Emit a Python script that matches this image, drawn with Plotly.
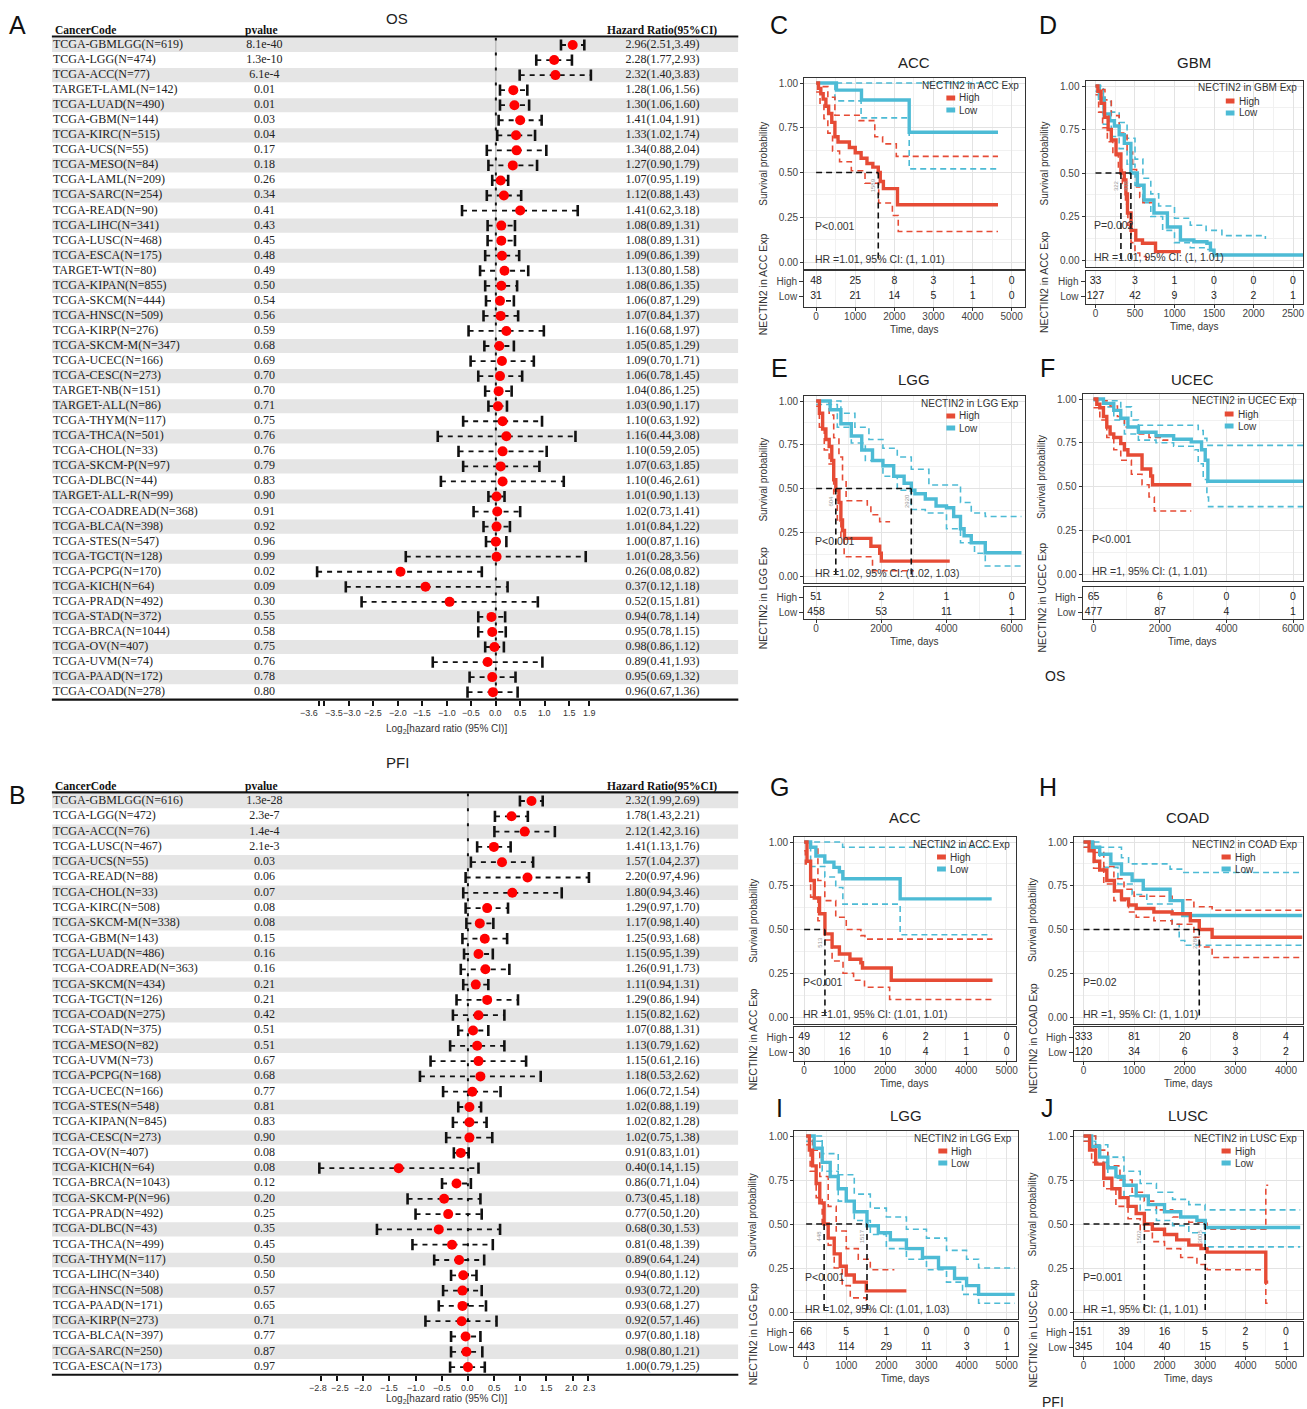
import math
import plotly.graph_objects as go

# ======================= DATA =======================
# ---- Forest plot A (OS) ----
os_codes = ["TCGA-GBMLGG(N=619)", "TCGA-LGG(N=474)", "TCGA-ACC(N=77)", "TARGET-LAML(N=142)",
            "TCGA-LUAD(N=490)", "TCGA-GBM(N=144)", "TCGA-KIRC(N=515)", "TCGA-UCS(N=55)",
            "TCGA-MESO(N=84)", "TCGA-LAML(N=209)", "TCGA-SARC(N=254)", "TCGA-READ(N=90)",
            "TCGA-LIHC(N=341)", "TCGA-LUSC(N=468)", "TCGA-ESCA(N=175)", "TARGET-WT(N=80)",
            "TCGA-KIPAN(N=855)", "TCGA-SKCM(N=444)", "TCGA-HNSC(N=509)", "TCGA-KIRP(N=276)",
            "TCGA-SKCM-M(N=347)", "TCGA-UCEC(N=166)", "TCGA-CESC(N=273)", "TARGET-NB(N=151)",
            "TARGET-ALL(N=86)", "TCGA-THYM(N=117)", "TCGA-THCA(N=501)", "TCGA-CHOL(N=33)",
            "TCGA-SKCM-P(N=97)", "TCGA-DLBC(N=44)", "TARGET-ALL-R(N=99)", "TCGA-COADREAD(N=368)",
            "TCGA-BLCA(N=398)", "TCGA-STES(N=547)", "TCGA-TGCT(N=128)", "TCGA-PCPG(N=170)",
            "TCGA-KICH(N=64)", "TCGA-PRAD(N=492)", "TCGA-STAD(N=372)", "TCGA-BRCA(N=1044)",
            "TCGA-OV(N=407)", "TCGA-UVM(N=74)", "TCGA-PAAD(N=172)", "TCGA-COAD(N=278)"]
os_pvalues = ["8.1e-40", "1.3e-10", "6.1e-4", "0.01", "0.01", "0.03", "0.04", "0.17", "0.18", "0.26",
              "0.34", "0.41", "0.43", "0.45", "0.48", "0.49", "0.50", "0.54", "0.56", "0.59",
              "0.68", "0.69", "0.70", "0.70", "0.71", "0.75", "0.76", "0.76", "0.79", "0.83",
              "0.90", "0.91", "0.92", "0.96", "0.99", "0.02", "0.09", "0.30", "0.55", "0.58",
              "0.75", "0.76", "0.78", "0.80"]
os_hr = [2.96, 2.28, 2.32, 1.28, 1.30, 1.41, 1.33, 1.34, 1.27, 1.07, 1.12, 1.41, 1.08, 1.08, 1.09,
         1.13, 1.08, 1.06, 1.07, 1.16, 1.05, 1.09, 1.06, 1.04, 1.03, 1.10, 1.16, 1.10, 1.07, 1.10,
         1.01, 1.02, 1.01, 1.00, 1.01, 0.26, 0.37, 0.52, 0.94, 0.95, 0.98, 0.89, 0.95, 0.96]
os_lo = [2.51, 1.77, 1.40, 1.06, 1.06, 1.04, 1.02, 0.88, 0.90, 0.95, 0.88, 0.62, 0.89, 0.89, 0.86,
         0.80, 0.86, 0.87, 0.84, 0.68, 0.85, 0.70, 0.78, 0.86, 0.90, 0.63, 0.44, 0.59, 0.63, 0.46,
         0.90, 0.73, 0.84, 0.87, 0.28, 0.08, 0.12, 0.15, 0.78, 0.78, 0.86, 0.41, 0.69, 0.67]
os_hi = [3.49, 2.93, 3.83, 1.56, 1.60, 1.91, 1.74, 2.04, 1.79, 1.19, 1.43, 3.18, 1.31, 1.31, 1.39,
         1.58, 1.35, 1.29, 1.37, 1.97, 1.29, 1.71, 1.45, 1.25, 1.17, 1.92, 3.08, 2.05, 1.85, 2.61,
         1.13, 1.41, 1.22, 1.16, 3.56, 0.82, 1.18, 1.81, 1.14, 1.15, 1.12, 1.93, 1.32, 1.36]
os_ticks = [-3.6, -3.5, -3.0, -2.5, -2.0, -1.5, -1.0, -0.5, 0.0, 0.5, 1.0, 1.5, 1.9]

# ---- Forest plot B (PFI) ----
pfi_codes = ["TCGA-GBMLGG(N=616)", "TCGA-LGG(N=472)", "TCGA-ACC(N=76)", "TCGA-LUSC(N=467)",
             "TCGA-UCS(N=55)", "TCGA-READ(N=88)", "TCGA-CHOL(N=33)", "TCGA-KIRC(N=508)",
             "TCGA-SKCM-M(N=338)", "TCGA-GBM(N=143)", "TCGA-LUAD(N=486)", "TCGA-COADREAD(N=363)",
             "TCGA-SKCM(N=434)", "TCGA-TGCT(N=126)", "TCGA-COAD(N=275)", "TCGA-STAD(N=375)",
             "TCGA-MESO(N=82)", "TCGA-UVM(N=73)", "TCGA-PCPG(N=168)", "TCGA-UCEC(N=166)",
             "TCGA-STES(N=548)", "TCGA-KIPAN(N=845)", "TCGA-CESC(N=273)", "TCGA-OV(N=407)",
             "TCGA-KICH(N=64)", "TCGA-BRCA(N=1043)", "TCGA-SKCM-P(N=96)", "TCGA-PRAD(N=492)",
             "TCGA-DLBC(N=43)", "TCGA-THCA(N=499)", "TCGA-THYM(N=117)", "TCGA-LIHC(N=340)",
             "TCGA-HNSC(N=508)", "TCGA-PAAD(N=171)", "TCGA-KIRP(N=273)", "TCGA-BLCA(N=397)",
             "TCGA-SARC(N=250)", "TCGA-ESCA(N=173)"]
pfi_pvalues = ["1.3e-28", "2.3e-7", "1.4e-4", "2.1e-3", "0.03", "0.06", "0.07", "0.08", "0.08", "0.15",
               "0.16", "0.16", "0.21", "0.21", "0.42", "0.51", "0.51", "0.67", "0.68", "0.77",
               "0.81", "0.83", "0.90", "0.08", "0.08", "0.12", "0.20", "0.25", "0.35", "0.45",
               "0.50", "0.50", "0.57", "0.65", "0.71", "0.77", "0.87", "0.97"]
pfi_hr = [2.32, 1.78, 2.12, 1.41, 1.57, 2.20, 1.80, 1.29, 1.17, 1.25, 1.15, 1.26, 1.11, 1.29, 1.15,
          1.07, 1.13, 1.15, 1.18, 1.06, 1.02, 1.02, 1.02, 0.91, 0.40, 0.86, 0.73, 0.77, 0.68, 0.81,
          0.89, 0.94, 0.93, 0.93, 0.92, 0.97, 0.98, 1.00]
pfi_lo = [1.99, 1.43, 1.42, 1.13, 1.04, 0.97, 0.94, 0.97, 0.98, 0.93, 0.95, 0.91, 0.94, 0.86, 0.82,
          0.88, 0.79, 0.61, 0.53, 0.72, 0.88, 0.82, 0.75, 0.83, 0.14, 0.71, 0.45, 0.50, 0.30, 0.48,
          0.64, 0.80, 0.72, 0.68, 0.57, 0.80, 0.80, 0.79]
pfi_hi = [2.69, 2.21, 3.16, 1.76, 2.37, 4.96, 3.46, 1.70, 1.40, 1.68, 1.39, 1.73, 1.31, 1.94, 1.62,
          1.31, 1.62, 2.16, 2.62, 1.54, 1.19, 1.28, 1.38, 1.01, 1.15, 1.04, 1.18, 1.20, 1.53, 1.39,
          1.24, 1.12, 1.20, 1.27, 1.46, 1.18, 1.21, 1.25]
pfi_ticks = [-2.8, -2.5, -2.0, -1.5, -1.0, -0.5, 0.0, 0.5, 1.0, 1.5, 2.0, 2.3]

# ---- KM curves: (time in days, survival probability) step points ----
# C: ACC (OS)
C_high = [(0, 1.0), (60, 0.97), (120, 0.94), (180, 0.91), (250, 0.87), (320, 0.83), (400, 0.78), (480, 0.70),
          (560, 0.67), (700, 0.67), (850, 0.64), (1000, 0.61), (1150, 0.58), (1300, 0.55), (1450, 0.53),
          (1589, 0.50), (1640, 0.45), (1720, 0.41), (2080, 0.32), (4650, 0.32)]
C_high_up = [(0, 1.0), (150, 0.98), (300, 0.92), (480, 0.82), (1100, 0.79), (1500, 0.70), (1700, 0.66),
             (2050, 0.59), (4650, 0.59)]
C_high_lo = [(0, 0.95), (100, 0.88), (200, 0.80), (300, 0.72), (420, 0.62), (600, 0.56), (900, 0.51),
             (1250, 0.44), (1600, 0.33), (1950, 0.26), (2100, 0.17), (4650, 0.17)]
C_low = [(0, 1.0), (520, 0.96), (1160, 0.905), (2380, 0.725), (4650, 0.725)]
C_low_up = [(0, 1.0), (4650, 1.0)]
C_low_lo = [(0, 1.0), (480, 0.90), (1150, 0.805), (2380, 0.52), (4650, 0.52)]
C_median = [1589]
C_risk_high = [48, 25, 8, 3, 1, 0]
C_risk_low = [31, 21, 14, 5, 1, 0]

# D: GBM (OS)
D_high = [(0, 1.0), (30, 0.97), (70, 0.90), (115, 0.82), (160, 0.75), (200, 0.69), (260, 0.61), (322, 0.50),
          (365, 0.46), (385, 0.38), (405, 0.27), (450, 0.17), (510, 0.115), (595, 0.096), (760, 0.048),
          (1080, 0.048)]
D_high_up = [(0, 1.0), (60, 0.98), (120, 0.92), (200, 0.83), (300, 0.73), (400, 0.62), (470, 0.52),
             (520, 0.42), (560, 0.36), (600, 0.33), (720, 0.33)]
D_high_lo = [(0, 0.95), (40, 0.85), (90, 0.76), (150, 0.68), (220, 0.60), (290, 0.52), (340, 0.44),
             (380, 0.32), (410, 0.20), (450, 0.10), (500, 0.04), (560, 0.02), (640, 0.0)]
D_low = [(0, 1.0), (50, 0.93), (110, 0.84), (180, 0.80), (240, 0.77), (300, 0.72), (365, 0.67), (448, 0.50),
         (530, 0.43), (615, 0.345), (740, 0.27), (910, 0.19), (1075, 0.115), (1245, 0.105), (1410, 0.096),
         (1455, 0.057), (1500, 0.029), (2630, 0.02)]
D_low_up = [(0, 1.0), (100, 0.91), (200, 0.85), (300, 0.79), (400, 0.70), (500, 0.58), (600, 0.47),
            (700, 0.38), (800, 0.31), (1000, 0.24), (1200, 0.20), (1400, 0.17), (1600, 0.14), (2150, 0.12)]
D_low_lo = [(0, 0.97), (100, 0.78), (200, 0.71), (300, 0.64), (400, 0.55), (500, 0.43), (600, 0.33),
            (700, 0.25), (850, 0.17), (1000, 0.10), (1200, 0.07), (1400, 0.06), (1500, 0.01)]
D_median = [322, 448]
D_risk_high = [33, 3, 1, 0, 0, 0]
D_risk_low = [127, 42, 9, 3, 2, 1]

# E: LGG (OS)
E_high = [(0, 1.0), (100, 0.93), (200, 0.84), (300, 0.78), (400, 0.74), (480, 0.66), (540, 0.55),
          (604, 0.49), (700, 0.42), (760, 0.32), (810, 0.26), (870, 0.215), (1620, 0.215), (1680, 0.17),
          (1950, 0.13), (2000, 0.085), (4100, 0.085)]
E_high_up = [(0, 1.0), (400, 0.92), (540, 0.79), (700, 0.68), (810, 0.55), (920, 0.43), (1570, 0.40),
             (1680, 0.35), (1950, 0.31), (2270, 0.31)]
E_high_lo = [(0, 0.97), (100, 0.85), (250, 0.72), (400, 0.64), (540, 0.47), (650, 0.32), (760, 0.21),
             (860, 0.11), (1620, 0.11), (1730, 0.03), (3000, 0.03)]
E_low = [(0, 1.0), (430, 0.95), (760, 0.87), (1080, 0.80), (1400, 0.72), (1730, 0.66), (2050, 0.63),
         (2380, 0.57), (2700, 0.53), (2920, 0.49), (3030, 0.47), (3350, 0.44), (3680, 0.40), (4000, 0.39),
         (4220, 0.34), (4430, 0.27), (4540, 0.23), (4760, 0.19), (5190, 0.133), (6300, 0.133)]
E_low_up = [(0, 1.0), (760, 0.93), (1190, 0.85), (1620, 0.78), (2050, 0.73), (2490, 0.68), (2920, 0.61),
            (3460, 0.52), (4430, 0.42), (4760, 0.36), (5190, 0.34), (6300, 0.34)]
E_low_lo = [(0, 0.98), (650, 0.85), (1080, 0.76), (1510, 0.66), (2050, 0.57), (2490, 0.49), (2920, 0.38),
            (3350, 0.36), (4000, 0.27), (4430, 0.19), (4860, 0.13), (5190, 0.057), (6300, 0.057)]
E_median = [604, 2920]
E_risk_high = [51, 2, 1, 0]
E_risk_low = [458, 53, 11, 1]

# F: UCEC (OS)
F_high = [(0, 1.0), (100, 0.97), (190, 0.95), (300, 0.90), (400, 0.84), (500, 0.80), (610, 0.78),
          (820, 0.745), (930, 0.71), (1035, 0.68), (1460, 0.60), (1720, 0.56), (1775, 0.51), (2940, 0.51)]
F_high_up = [(0, 1.0), (300, 0.99), (500, 0.96), (720, 0.90), (930, 0.84), (1350, 0.80), (1670, 0.78),
             (2090, 0.765), (2400, 0.765)]
F_high_lo = [(0, 0.95), (190, 0.88), (400, 0.78), (610, 0.71), (820, 0.65), (1140, 0.57), (1460, 0.51),
             (1670, 0.44), (1830, 0.36), (2940, 0.36)]
F_low = [(0, 1.0), (300, 0.975), (610, 0.935), (820, 0.89), (1035, 0.84), (1350, 0.81), (1880, 0.79),
         (2410, 0.77), (2940, 0.755), (3250, 0.71), (3360, 0.65), (3440, 0.53), (6300, 0.53)]
F_low_up = [(0, 1.0), (300, 0.99), (820, 0.955), (1140, 0.88), (1350, 0.85), (3150, 0.82), (3300, 0.775),
            (3410, 0.735), (6300, 0.735)]
F_low_lo = [(0, 0.99), (190, 0.955), (610, 0.88), (930, 0.80), (1350, 0.765), (1880, 0.75), (2410, 0.73),
            (3040, 0.71), (3150, 0.63), (3300, 0.54), (3410, 0.44), (3460, 0.385), (6300, 0.385)]
F_median = []
F_risk_high = [65, 6, 0, 0]
F_risk_low = [477, 87, 4, 1]

# G: ACC (PFI)
G_high = [(0, 1.0), (70, 0.89), (160, 0.78), (250, 0.68), (380, 0.59), (513, 0.475), (690, 0.40),
          (870, 0.36), (1130, 0.33), (1400, 0.31), (1440, 0.28), (2110, 0.28), (2150, 0.21), (4650, 0.21)]
G_high_up = [(0, 1.0), (160, 0.97), (340, 0.78), (510, 0.665), (780, 0.57), (1040, 0.50), (1400, 0.465),
             (1500, 0.445), (4650, 0.445)]
G_high_lo = [(0, 0.95), (30, 0.875), (160, 0.685), (340, 0.55), (510, 0.44), (690, 0.32), (960, 0.25),
             (1220, 0.21), (1490, 0.17), (2110, 0.10), (4650, 0.10)]
G_low = [(0, 1.0), (160, 0.97), (290, 0.92), (510, 0.885), (735, 0.855), (870, 0.83), (955, 0.79),
         (2370, 0.675), (4630, 0.675)]
G_low_up = [(0, 1.0), (950, 0.97), (4630, 0.97)]
G_low_lo = [(0, 1.0), (160, 0.86), (510, 0.80), (780, 0.74), (956, 0.645), (2370, 0.47), (4630, 0.47)]
G_median = [513]
G_risk_high = [49, 12, 6, 2, 1, 0]
G_risk_low = [30, 16, 10, 4, 1, 0]

# H: COAD (PFI)
H_high = [(0, 1.0), (110, 0.95), (210, 0.89), (320, 0.84), (460, 0.78), (610, 0.72), (750, 0.675),
          (890, 0.64), (1040, 0.62), (1390, 0.60), (1750, 0.59), (2110, 0.55), (2286, 0.50), (2540, 0.456),
          (4320, 0.456)]
H_high_up = [(0, 1.0), (200, 0.94), (400, 0.86), (600, 0.79), (800, 0.73), (1000, 0.69), (1750, 0.67),
             (2180, 0.63), (2540, 0.61), (4320, 0.61)]
H_high_lo = [(0, 0.97), (200, 0.85), (400, 0.76), (600, 0.665), (890, 0.60), (1040, 0.57), (1390, 0.55),
             (1750, 0.53), (2180, 0.456), (2290, 0.40), (2540, 0.34), (4320, 0.34)]
H_low = [(0, 1.0), (180, 0.97), (320, 0.93), (540, 0.875), (750, 0.817), (960, 0.78), (1180, 0.73),
         (1710, 0.665), (1960, 0.58), (4320, 0.58)]
H_low_up = [(0, 1.0), (320, 0.97), (750, 0.91), (890, 0.875), (1710, 0.845), (1960, 0.826), (4320, 0.826)]
H_low_lo = [(0, 0.97), (320, 0.855), (680, 0.76), (960, 0.70), (1250, 0.646), (1750, 0.53), (1890, 0.437),
            (2000, 0.41), (4320, 0.41)]
H_median = [2286]
H_risk_high = [333, 81, 20, 8, 4]
H_risk_low = [120, 34, 6, 3, 2]

# I: LGG (PFI)
I_high = [(0, 1.0), (80, 0.92), (160, 0.83), (250, 0.73), (340, 0.62), (448, 0.50), (550, 0.42),
          (700, 0.33), (850, 0.26), (1000, 0.21), (1200, 0.17), (1500, 0.12), (2500, 0.12)]
I_high_up = [(0, 1.0), (160, 0.92), (340, 0.77), (550, 0.60), (750, 0.46), (1000, 0.36), (1300, 0.30),
             (1600, 0.24), (2200, 0.24)]
I_high_lo = [(0, 0.95), (100, 0.80), (250, 0.65), (400, 0.50), (550, 0.38), (700, 0.25), (900, 0.15),
             (1100, 0.08), (1500, 0.05)]
I_low = [(0, 1.0), (200, 0.93), (400, 0.85), (600, 0.77), (800, 0.70), (1000, 0.63), (1200, 0.57),
         (1517, 0.49), (1800, 0.45), (2100, 0.41), (2500, 0.36), (2900, 0.31), (3300, 0.25), (3700, 0.19),
         (4000, 0.15), (4300, 0.10), (5200, 0.10)]
I_low_up = [(0, 1.0), (400, 0.90), (800, 0.78), (1200, 0.67), (1600, 0.59), (2000, 0.54), (2500, 0.47),
            (3000, 0.42), (3500, 0.35), (4000, 0.30), (4300, 0.25), (5200, 0.25)]
I_low_lo = [(0, 0.97), (400, 0.80), (800, 0.63), (1200, 0.52), (1600, 0.44), (2000, 0.36), (2500, 0.30),
            (3000, 0.24), (3500, 0.17), (3900, 0.10), (4300, 0.05), (5200, 0.05)]
I_median = [448, 1517]
I_risk_high = [66, 5, 1, 0, 0, 0]
I_risk_low = [443, 114, 29, 11, 3, 1]

# J: LUSC (PFI)
J_high = [(0, 1.0), (150, 0.92), (300, 0.84), (500, 0.76), (700, 0.70), (900, 0.65), (1100, 0.60),
          (1300, 0.56), (1502, 0.50), (1700, 0.47), (2000, 0.44), (2300, 0.41), (2600, 0.38), (2900, 0.36),
          (3050, 0.34), (4450, 0.34), (4500, 0.17), (4560, 0.17)]
J_high_up = [(0, 1.0), (300, 0.92), (600, 0.83), (900, 0.75), (1200, 0.68), (1500, 0.63), (1800, 0.58),
             (2200, 0.54), (2600, 0.51), (3050, 0.47), (4400, 0.47), (4500, 0.72), (4560, 0.72)]
J_high_lo = [(0, 0.97), (200, 0.85), (500, 0.70), (800, 0.60), (1100, 0.53), (1400, 0.46), (1700, 0.40),
             (2000, 0.36), (2400, 0.31), (2800, 0.27), (3050, 0.24), (4400, 0.24), (4500, 0.05), (4560, 0.05)]
J_low = [(0, 1.0), (200, 0.94), (400, 0.88), (600, 0.82), (800, 0.77), (1000, 0.72), (1300, 0.66),
         (1600, 0.61), (2000, 0.57), (2400, 0.54), (2800, 0.52), (3005, 0.48), (5350, 0.48)]
J_low_up = [(0, 1.0), (300, 0.95), (600, 0.88), (1000, 0.80), (1400, 0.73), (1800, 0.68), (2200, 0.64),
            (2600, 0.61), (3000, 0.58), (5350, 0.58)]
J_low_lo = [(0, 0.97), (300, 0.85), (600, 0.76), (1000, 0.66), (1400, 0.58), (1800, 0.52), (2200, 0.49),
            (2600, 0.45), (3000, 0.37), (5350, 0.37)]
J_median = [1502, 3005]
J_risk_high = [151, 39, 16, 5, 2, 0]
J_risk_low = [345, 104, 40, 15, 5, 1]

# ======================= FIGURE =======================
W, H = 1307, 1409
RED, BLUE = '#E64B35', '#4DBBD5'
SANS = 'Liberation Sans, Arial, Helvetica, sans-serif'
SERIF = 'Liberation Serif, Times New Roman, serif'

fig = go.Figure()
L = {}
shapes = []
annots = []
cnt = [0]


def fx(p):
    return p / W


def fy(p):
    return 1 - p / H


def add_axes(xpx, ypx, xr, yr, xkw=None, ykw=None):
    cnt[0] += 1
    n = cnt[0]
    s = '' if n == 1 else str(n)
    base = dict(showgrid=False, zeroline=False, showticklabels=False, ticks='', showline=False,
                fixedrange=True)
    xa = dict(base)
    xa.update(domain=[max(0, fx(xpx[0])), min(1, fx(xpx[1]))], range=xr, anchor='y' + s)
    ya = dict(base)
    ya.update(domain=[max(0, fy(ypx[1])), min(1, fy(ypx[0]))], range=yr, anchor='x' + s)
    if xkw:
        xa.update(xkw)
    if ykw:
        ya.update(ykw)
    L['xaxis' + s] = xa
    L['yaxis' + s] = ya
    return 'x' + s, 'y' + s


def text(x, y, t, size=10, color='#222', xanchor='center', yanchor='middle', angle=0, family=SANS,
         xref='paper', yref='paper', **kw):
    annots.append(dict(x=x, y=y, text=t, showarrow=False, xref=xref, yref=yref, xanchor=xanchor,
                       yanchor=yanchor, textangle=angle, font=dict(size=size, color=color, family=family), **kw))


def tickfmt(v):
    s = f"{v:.1f}"
    return s.replace('-', '\u2212')


def forest(codes, pvals, hr, lo, hi, ticks, top_c, row_h, zero_px, scale, title, title_y, header_y, axt_y,
           tick_shift):
    n = len(codes)
    btop = top_c - row_h / 2
    bbot = btop + n * row_h
    yr = [n - 0.5, -0.5]
    tx, ty = add_axes((52, 740), (btop, bbot), [52, 740], yr)
    gx, gy = add_axes((280, 650), (btop, bbot), [(280 - zero_px) / scale, (650 - zero_px) / scale], yr,
                      xkw=dict(tickmode='array', tickvals=ticks, ticks='outside', ticklen=5, tickwidth=1.6,
                               tickcolor='#111'))
    # tick labels (drawn as text so that crowded labels can be nudged apart)
    for t in ticks:
        xp = zero_px + t * scale
        anchor, dx = tick_shift.get(t, ('center', 0))
        text(fx(xp + dx), fy(bbot + 13), tickfmt(t), size=9, color='#333', xanchor=anchor)
    for i in range(0, n, 2):
        shapes.append(dict(type='rect', xref=tx, yref=ty, x0=52, x1=740, y0=i - 0.47, y1=i + 0.47,
                           fillcolor='#e5e5e5', line=dict(width=0), layer='below'))
    shapes.append(dict(type='line', xref='paper', yref='paper', x0=fx(52), x1=fx(740),
                       y0=fy(btop - 1), y1=fy(btop - 1), line=dict(color='#111', width=2.2)))
    shapes.append(dict(type='line', xref='paper', yref='paper', x0=fx(52), x1=fx(740),
                       y0=fy(bbot), y1=fy(bbot), line=dict(color='#111', width=2.2)))
    shapes.append(dict(type='line', xref=gx, yref=gy, x0=0, x1=0, y0=-0.5, y1=n - 0.5,
                       line=dict(color='#aaaaaa', width=1), layer='below'))
    shapes.append(dict(type='line', xref=gx, yref=gy, x0=0, x1=0, y0=-0.5, y1=n - 0.5,
                       line=dict(color='#111', width=2, dash='3px,12px'), layer='below'))
    tf = dict(family=SERIF, size=12, color='#222')
    fig.add_trace(go.Scatter(x=[53] * n, y=list(range(n)), mode='text', text=codes,
                             textposition='middle right', textfont=tf, xaxis=tx, yaxis=ty,
                             hoverinfo='skip', showlegend=False, cliponaxis=False))
    fig.add_trace(go.Scatter(x=[265] * n, y=list(range(n)), mode='text', text=pvals,
                             textposition='middle center', textfont=tf, xaxis=tx, yaxis=ty,
                             hoverinfo='skip', showlegend=False, cliponaxis=False))
    hr_txt = [f"{h:.2f}({a:.2f},{b:.2f})" for h, a, b in zip(hr, lo, hi)]
    fig.add_trace(go.Scatter(x=[664] * n, y=list(range(n)), mode='text', text=hr_txt,
                             textposition='middle center', textfont=tf, xaxis=tx, yaxis=ty,
                             hoverinfo='skip', showlegend=False, cliponaxis=False))
    lx, ly = [], []
    for i in range(n):
        lx += [math.log2(lo[i]), math.log2(hi[i]), None]
        ly += [i, i, None]
    fig.add_trace(go.Scatter(x=lx, y=ly, mode='lines', line=dict(color='#111', width=1.8, dash='5px,5px'),
                             xaxis=gx, yaxis=gy, hoverinfo='skip', showlegend=False))
    cx = [math.log2(v) for v in lo] + [math.log2(v) for v in hi]
    cy = list(range(n)) * 2
    fig.add_trace(go.Scatter(x=cx, y=cy, mode='markers',
                             marker=dict(symbol='line-ns', size=8, line=dict(width=2.6, color='#111')),
                             xaxis=gx, yaxis=gy, hoverinfo='skip', showlegend=False))
    fig.add_trace(go.Scatter(x=[math.log2(v) for v in hr], y=list(range(n)), mode='markers',
                             marker=dict(symbol='circle', size=10, color='#ff0000'),
                             xaxis=gx, yaxis=gy, hoverinfo='skip', showlegend=False))
    text(fx(53), fy(header_y), '<b>CancerCode</b>', xanchor='left', family=SERIF, size=11.5, color='#111')
    text(fx(262), fy(header_y), '<b>pvalue</b>', family=SERIF, size=11.5, color='#111')
    text(fx(664), fy(header_y), '<b>Hazard Ratio(95%CI)</b>', family=SERIF, size=11.5, color='#111')
    text(fx(398), fy(title_y), title, size=15, color='#222')
    text(fx(448), fy(axt_y), 'Log<sub>2</sub>[hazard ratio (95% CI)]', size=10, color='#333')


forest(os_codes, os_pvalues, os_hr, os_lo, os_hi, os_ticks, 45, 15.05, 497, 49.17, 'OS', 18, 30, 729,
       {-3.6: ('right', 1.0), -3.5: ('left', -1.5), -3.0: ('center', 3.5)})
forest(pfi_codes, pfi_pvalues, pfi_hr, pfi_lo, pfi_hi, pfi_ticks, 801, 15.3, 469, 52.5, 'PFI', 763, 786, 1399,
       {-2.8: ('center', -3), -2.5: ('center', 3), 2.0: ('center', -1.5), 2.3: ('center', 1.5)})

GRID = '#e3e3e3'
MINOR = '#f1f1f1'


def km(P):
    bx0, bx1 = P['box_x']
    x0p, xlp = P['x0px'], P['xlastpx']
    ticks = P['ticks']
    sc = (xlp - x0p) / ticks[-1]
    xr = [(bx0 - x0p) / sc, (bx1 - x0p) / sc]
    y1p, y0p = P['y_one'], P['y_zero']
    sy = y0p - y1p
    btop, bbot = y1p - 0.03 * sy, y0p + 0.04 * sy
    step = ticks[1] - ticks[0]
    frame = dict(showline=True, mirror=True, linecolor='#333', linewidth=1)
    xminor = [t + step / 2 for t in [ticks[0] - step] + ticks]
    mx, my = add_axes((bx0, bx1), (btop, bbot), xr, [-0.04, 1.03],
                      xkw=dict(**frame, showgrid=True, gridcolor=GRID, gridwidth=1, tickmode='array',
                               tickvals=ticks,
                               minor=dict(showgrid=True, gridcolor=MINOR, gridwidth=0.7, tickvals=xminor)),
                      ykw=dict(**frame, showgrid=True, gridcolor=GRID, gridwidth=1, tickmode='array',
                               tickvals=[0, 0.25, 0.5, 0.75, 1.0],
                               ticktext=['0.00', '0.25', '0.50', '0.75', '1.00'], showticklabels=True,
                               ticks='outside', ticklen=3, tickcolor='#333',
                               tickfont=dict(size=10, family=SANS, color='#444'),
                               minor=dict(showgrid=True, gridcolor=MINOR, gridwidth=0.7,
                                          tickvals=[0.125, 0.375, 0.625, 0.875])))
    tb0, tb1 = P['tbl']
    h = tb1 - tb0
    tyr = [2.7 - h / 15.0, 2.7]
    tx, ty = add_axes((bx0, bx1), (tb0, tb1), xr, tyr,
                      xkw=dict(**frame, showgrid=True, gridcolor=GRID, gridwidth=1, tickmode='array',
                               tickvals=ticks, ticktext=[str(t) for t in ticks], showticklabels=True,
                               ticks='outside', ticklen=3, tickcolor='#333', tickangle=0,
                               ticklabelstandoff=-3,
                               tickfont=dict(size=10, family=SANS, color='#444'),
                               minor=dict(showgrid=True, gridcolor=MINOR, gridwidth=0.7, tickvals=xminor)),
                      ykw=dict(**frame, tickmode='array', tickvals=[2, 1], ticktext=['High', 'Low'],
                               showticklabels=True, ticks='outside', ticklen=4, tickcolor='#333',
                               tickfont=dict(size=10, family=SANS, color='#444')))

    def curve(pts, color, width, dash=None):
        fig.add_trace(go.Scatter(x=[p[0] for p in pts], y=[p[1] for p in pts], mode='lines',
                                 line=dict(color=color, width=width, shape='hv', dash=dash),
                                 xaxis=mx, yaxis=my, hoverinfo='skip', showlegend=False))

    D = P['data']
    curve(D['low_up'], BLUE, 1.6, '6px,4px')
    curve(D['low_lo'], BLUE, 1.6, '6px,4px')
    curve(D['high_up'], RED, 1.6, '6px,4px')
    curve(D['high_lo'], RED, 1.6, '6px,4px')
    curve(D['low'], BLUE, 3.4)
    curve(D['high'], RED, 3.4)
    meds = D['median']
    if meds:
        fig.add_trace(go.Scatter(x=[0, max(meds)], y=[0.5, 0.5], mode='lines',
                                 line=dict(color='#111', width=1.6, dash='6px,4px'),
                                 xaxis=mx, yaxis=my, hoverinfo='skip', showlegend=False))
        for m in meds:
            fig.add_trace(go.Scatter(x=[m, m], y=[0.5, 0.0], mode='lines',
                                     line=dict(color='#111', width=1.6, dash='6px,4px'),
                                     xaxis=mx, yaxis=my, hoverinfo='skip', showlegend=False))
            text(m, 0.43, str(m), size=6, color='#999', angle=-90, xref=mx, yref=my, xshift=-5)
    fig.add_trace(go.Scatter(x=ticks, y=[2] * len(ticks), mode='text', text=[str(v) for v in D['risk_high']],
                             textposition='middle center', textfont=dict(size=10.5, family=SANS, color='#222'),
                             xaxis=tx, yaxis=ty, hoverinfo='skip', showlegend=False, cliponaxis=False))
    fig.add_trace(go.Scatter(x=ticks, y=[1] * len(ticks), mode='text', text=[str(v) for v in D['risk_low']],
                             textposition='middle center', textfont=dict(size=10.5, family=SANS, color='#222'),
                             xaxis=tx, yaxis=ty, hoverinfo='skip', showlegend=False, cliponaxis=False))
    w = bx1 - bx0
    text(fx((bx0 + bx1) / 2), fy(P['title_y']), P['title'], size=15, color='#222')
    text(fx(bx1 - 4), fy(y1p + 2), P['legend'], size=10, color='#333', xanchor='right')
    for lab, col, dy in (('High', RED, 15), ('Low', BLUE, 27)):
        text(fx(bx0 + 0.695 * w), fy(y1p + dy), lab, size=10, color='#333', xanchor='left')
        shapes.append(dict(type='rect', xref='paper', yref='paper', x0=fx(bx0 + 0.645 * w),
                           x1=fx(bx0 + 0.685 * w), y0=fy(y1p + dy + 2.5), y1=fy(y1p + dy - 2.5),
                           fillcolor=col, line=dict(width=0)))
    text(0, 0.2, P['p'], size=10.5, color='#333', xanchor='left', xref=mx, yref=my, xshift=-3)
    text(0, 0.015, P['hr'], size=10.5, color='#333', xanchor='left', xref=mx, yref=my, xshift=-3)
    ylab_x = fx(bx0 - 41)
    text(ylab_x, fy((btop + bbot) / 2 - 10), 'Survival probability', size=10, color='#333', angle=-90)
    text(ylab_x, fy((tb0 + tb1) / 2 - 5), P['risk_label'], size=10.5, color='#333', angle=-90)
    text(fx((bx0 + bx1) / 2), fy(tb1 + 22), 'Time, days', size=10, color='#333')
    text(fx(P['letter_xy'][0]), fy(P['letter_xy'][1]), P['letter'], size=25, color='#111')


def pack(prefix, g):
    return dict(high=g[prefix + '_high'], high_up=g[prefix + '_high_up'], high_lo=g[prefix + '_high_lo'],
                low=g[prefix + '_low'], low_up=g[prefix + '_low_up'], low_lo=g[prefix + '_low_lo'],
                median=g[prefix + '_median'], risk_high=g[prefix + '_risk_high'],
                risk_low=g[prefix + '_risk_low'])


G_ = globals()
panels = [
    dict(letter='C', letter_xy=(781, 25), title='ACC', legend='NECTIN2 in ACC Exp', risk_label='NECTIN2 in ACC Exp',
         box_x=(806, 1027), x0px=818, xlastpx=1014, ticks=[0, 1000, 2000, 3000, 4000, 5000],
         y_one=83, y_zero=262, tbl=(271, 307), title_y=63, p='P<0.001', hr='HR =1.01, 95% CI: (1, 1.01)',
         data=pack('C', G_)),
    dict(letter='D', letter_xy=(1050, 25), title='GBM', legend='NECTIN2 in GBM Exp', risk_label='NECTIN2 in ACC Exp',
         box_x=(1088, 1306), x0px=1098, xlastpx=1296, ticks=[0, 500, 1000, 1500, 2000, 2500],
         y_one=86, y_zero=260, tbl=(271, 304), title_y=63, p='P=0.002', hr='HR =1.01, 95% CI: (1, 1.01)',
         data=pack('D', G_)),
    dict(letter='E', letter_xy=(781, 368), title='LGG', legend='NECTIN2 in LGG Exp', risk_label='NECTIN2 in LGG Exp',
         box_x=(806, 1027), x0px=818, xlastpx=1014, ticks=[0, 2000, 4000, 6000],
         y_one=401, y_zero=576, tbl=(587, 619), title_y=380, p='P<0.001', hr='HR =1.02, 95% CI: (1.02, 1.03)',
         data=pack('E', G_)),
    dict(letter='F', letter_xy=(1050, 368), title='UCEC', legend='NECTIN2 in UCEC Exp', risk_label='NECTIN2 in UCEC Exp',
         box_x=(1085, 1306), x0px=1096, xlastpx=1296, ticks=[0, 2000, 4000, 6000],
         y_one=399, y_zero=574, tbl=(587, 619), title_y=380, p='P<0.001', hr='HR =1, 95% CI: (1, 1.01)',
         data=pack('F', G_)),
    dict(letter='G', letter_xy=(781, 787), title='ACC', legend='NECTIN2 in ACC Exp', risk_label='NECTIN2 in ACC Exp',
         box_x=(796, 1018), x0px=806, xlastpx=1009, ticks=[0, 1000, 2000, 3000, 4000, 5000],
         y_one=842, y_zero=1017, tbl=(1027, 1061), title_y=817, p='P<0.001', hr='HR =1.01, 95% CI: (1.01, 1.01)',
         data=pack('G', G_)),
    dict(letter='H', letter_xy=(1050, 787), title='COAD', legend='NECTIN2 in COAD Exp', risk_label='NECTIN2 in COAD Exp',
         box_x=(1076, 1306), x0px=1086, xlastpx=1289, ticks=[0, 1000, 2000, 3000, 4000],
         y_one=842, y_zero=1017, tbl=(1027, 1061), title_y=817, p='P=0.02', hr='HR =1, 95% CI: (1, 1.01)',
         data=pack('H', G_)),
    dict(letter='I', letter_xy=(781, 1108), title='LGG', legend='NECTIN2 in LGG Exp', risk_label='NECTIN2 in LGG Exp',
         box_x=(796, 1020), x0px=808, xlastpx=1009, ticks=[0, 1000, 2000, 3000, 4000, 5000],
         y_one=1136, y_zero=1312, tbl=(1322, 1356), title_y=1115, p='P<0.001', hr='HR =1.02, 95% CI: (1.01, 1.03)',
         data=pack('I', G_)),
    dict(letter='J', letter_xy=(1050, 1108), title='LUSC', legend='NECTIN2 in LUSC Exp', risk_label='NECTIN2 in LUSC Exp',
         box_x=(1076, 1306), x0px=1086, xlastpx=1289, ticks=[0, 1000, 2000, 3000, 4000, 5000],
         y_one=1136, y_zero=1312, tbl=(1322, 1356), title_y=1115, p='P=0.001', hr='HR =1, 95% CI: (1, 1.01)',
         data=pack('J', G_)),
]
for P in panels:
    km(P)

text(fx(18), fy(25), 'A', size=25, color='#111')
text(fx(18), fy(795), 'B', size=25, color='#111')
text(fx(1057), fy(676), 'OS', size=14, color='#222')
text(fx(1055), fy(1402), 'PFI', size=14, color='#222')

L.update(width=W, height=H, margin=dict(l=0, r=0, t=0, b=0), paper_bgcolor='white',
         plot_bgcolor='rgba(0,0,0,0)', showlegend=False, shapes=shapes, annotations=annots,
         font=dict(family=SANS))
fig.update_layout(**L)
fig.write_html("out.html")
